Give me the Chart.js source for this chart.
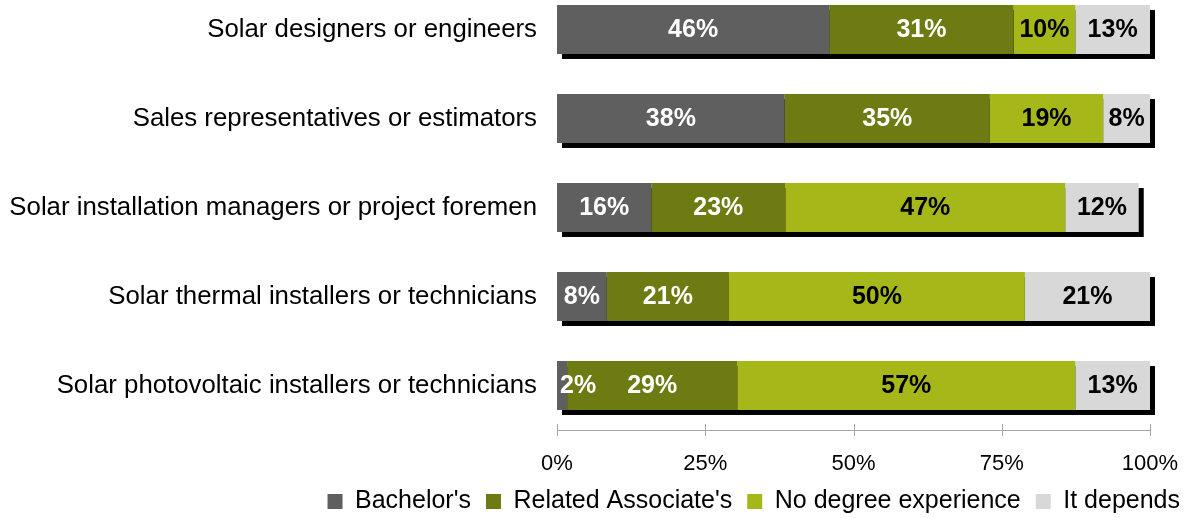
<!DOCTYPE html>
<html>
<head>
<meta charset="utf-8">
<script src="https://cdn.jsdelivr.net/npm/chart.js@4"></script>
<style>
  body { margin: 0; background: #fff; }
  #clip { width: 1195px; height: 518px; overflow: hidden; position: relative; }
  #box { position: absolute; left: 0; top: -15px; width: 1195px; height: 539px; }
</style>
</head>
<body>
<div id="clip"><div id="box"><canvas id="chart"></canvas></div></div>
<script>
// categories (top to bottom)
var categories = [
  'Solar designers or engineers',
  'Sales representatives or estimators',
  'Solar installation managers or project foremen',
  'Solar thermal installers or technicians',
  'Solar photovoltaic installers or technicians'
];
// series values, % of respondents
var bachelors   = [45.9, 38.4, 15.9, 8.4, 1.7];
var associates  = [31.1, 34.6, 22.6, 20.6, 28.7];
var noDegree    = [10.4, 19.1, 47.2, 49.9, 57.0];
var itDepends   = [12.6, 7.9, 12.4, 21.1, 12.6];
var seriesNames = ["Bachelor's", "Related Associate's", 'No degree experience', 'It depends'];
var tickValues  = [0, 25, 50, 75, 100];

var colors = ['#5f5f5f', '#6d7b12', '#a6b71a', '#d8d8d8'];
var labelColors = ['#ffffff', '#ffffff', '#000000', '#000000'];
var FONT = '"Liberation Sans", Arial, sans-serif';

// black drop shadow behind every stacked row
var shadowPlugin = {
  id: 'rowShadow',
  beforeDatasetsDraw: function(chart) {
    var first = chart.getDatasetMeta(0).data;
    var last = chart.getDatasetMeta(chart.data.datasets.length - 1).data;
    var ctx = chart.ctx;
    ctx.save();
    ctx.fillStyle = '#000';
    for (var i = 0; i < first.length; i++) {
      var left = first[i].base;
      var right = last[i].x;
      var h = first[i].height;
      ctx.fillRect(left + 5, first[i].y - h / 2 + 5, right - left, h);
    }
    ctx.restore();
  }
};

// value labels inside the segments
var labelPlugin = {
  id: 'segLabels',
  afterDatasetsDraw: function(chart) {
    var ctx = chart.ctx;
    ctx.save();
    ctx.font = 'bold 25px ' + FONT;
    ctx.textBaseline = 'middle';
    ctx.textAlign = 'center';
    chart.data.datasets.forEach(function(ds, d) {
      var meta = chart.getDatasetMeta(d);
      meta.data.forEach(function(bar, i) {
        var txt = Math.round(ds.data[i]) + '%';
        var w = ctx.measureText(txt).width;
        var cx = (bar.base + bar.x) / 2;
        if (cx - w / 2 < bar.base + 3) cx = bar.base + 3 + w / 2;
        ctx.fillStyle = labelColors[d];
        ctx.fillText(txt, cx, bar.y + 1);
      });
    });
    ctx.restore();
  }
};

// tick marks crossing the x axis line
var axisTicks = {
  id: 'axisTicks',
  afterDraw: function(chart) {
    var sc = chart.scales.x;
    var y = chart.chartArea.bottom;
    var ctx = chart.ctx;
    ctx.save();
    ctx.strokeStyle = '#a6a6a6';
    ctx.lineWidth = 1;
    sc.ticks.forEach(function(t, i) {
      var x = Math.round(sc.getPixelForTick(i)) + 0.5;
      ctx.beginPath();
      ctx.moveTo(x, y - 6);
      ctx.lineTo(x, y + 6);
      ctx.stroke();
    });
    ctx.restore();
  }
};

var sets = [bachelors, associates, noDegree, itDepends].map(function(vals, k) {
  return {
    label: seriesNames[k],
    data: vals,
    backgroundColor: colors[k],
    borderWidth: 0,
    categoryPercentage: 1,
    barPercentage: 0.55
  };
});

new Chart(document.getElementById('chart'), {
  type: 'bar',
  data: { labels: categories, datasets: sets },
  plugins: [shadowPlugin, labelPlugin, axisTicks],
  options: {
    indexAxis: 'y',
    responsive: true,
    maintainAspectRatio: false,
    animation: false,
    layout: { padding: 0 },
    scales: {
      x: {
        stacked: true,
        min: 0,
        max: 100,
        afterBuildTicks: function(scale) {
          scale.ticks = tickValues.map(function(v) { return { value: v }; });
        },
        afterFit: function(scale) {
          scale.height = 44;
          scale.paddingRight = 45;
        },
        grid: { display: false, drawTicks: false },
        border: { display: true, color: '#a6a6a6', width: 1 },
        ticks: {
          padding: 21,
          color: '#000',
          font: { family: FONT, size: 22 },
          callback: function(v) { return v + '%'; }
        }
      },
      y: {
        stacked: true,
        grid: { display: false, drawTicks: false },
        border: { display: false },
        afterFit: function(scale) {
          scale.width = 557;
          scale.paddingTop = 0;
          scale.paddingBottom = 0;
        },
        ticks: {
          padding: 20,
          color: '#000',
          font: { family: FONT, size: 25.8 }
        }
      }
    },
    plugins: {
      tooltip: { enabled: false },
      legend: {
        position: 'bottom',
        align: 'end',
        labels: {
          color: '#000',
          boxWidth: 15,
          boxHeight: 15,
          padding: 15,
          font: { family: FONT, size: 25 }
        }
      }
    }
  }
});
</script>
</body>
</html>
